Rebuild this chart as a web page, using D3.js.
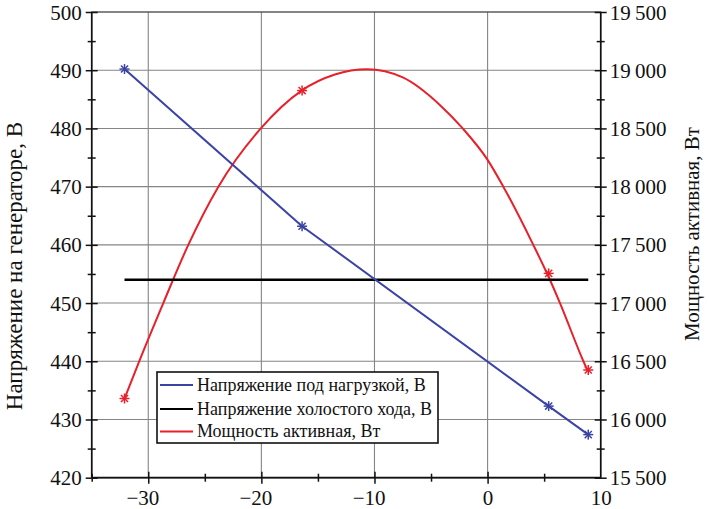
<!DOCTYPE html>
<html><head><meta charset="utf-8">
<script src="https://cdn.jsdelivr.net/npm/d3@7"></script>
<style>
html,body{margin:0;padding:0;background:#fff;}
svg{display:block;}
</style></head>
<body>
<svg id="chart" width="709" height="509"></svg>
<script>
// ---- data ----
const angleX = [-32.1, -16.4, 5.4, 8.9];                  // measurement points
const loadVoltage = [490.2, 463.2, 432.3, 427.4];         // Напряжение под нагрузкой, В
const idleX = [-32.1, 8.9];
const idleVoltage = [454, 454];                           // Напряжение холостого хода, В
const powerPoints = [16180, 18825, 17255, 16425];         // Мощность активная, Вт (markers)
// fitted power curve
const powerCurveX = [-32.1, -30.8, -28.67, -26.46, -23.8, -20.05, -16.44, -13.5, -10.66, -7.5, -4.2, -2.2, 0, 1.39, 4.04, 5.37, 6.4, 8.47, 8.86];
const powerCurveW = [16180, 16500, 17000, 17500, 18000, 18500, 18825, 18963, 19008, 18938, 18700, 18500, 18230, 18000, 17500, 17230, 17000, 16500, 16415];

const xTicks = [-30, -20, -10, 0, 10];
const xMinorTicks = [-35, -25, -15, -5, 5];
const yLeftTicks = [420, 430, 440, 450, 460, 470, 480, 490, 500];
const yRightTicks = [15500, 16000, 16500, 17000, 17500, 18000, 18500, 19000, 19500];
const legendLabels = ["Напряжение под нагрузкой, В", "Напряжение холостого хода, В", "Мощность активная, Вт"];
const seriesColors = ["#3b44a4", "#000000", "#e8202a"];
const leftTitle = "Напряжение на генераторе, В";
const rightTitle = "Мощность активная, Вт";

const FONT = "'Liberation Serif', 'DejaVu Serif', 'Times New Roman', serif";

// ---- layout ----
const L = 91.7, R = 600.7, T = 12, B = 477.7;
const svg = d3.select("#chart").attr("font-family", FONT);
const x = d3.scaleLinear().domain([-35, 10]).range([L, R]);
const yL = d3.scaleLinear().domain([420, 500]).range([B, T]);
const yR = d3.scaleLinear().domain([15500, 19500]).range([B, T]);

// grid
const grid = svg.append("g").attr("stroke", "#858585").attr("stroke-width", 1.1);
xTicks.filter(v => v > -35 && v < 10).forEach(v => {
  grid.append("line").attr("x1", x(v)).attr("x2", x(v)).attr("y1", T).attr("y2", B);
});
yLeftTicks.filter(v => v > 420 && v < 500).forEach(v => {
  grid.append("line").attr("x1", L).attr("x2", R).attr("y1", yL(v)).attr("y2", yL(v));
});
// frame
svg.append("rect").attr("x", L).attr("y", T).attr("width", R - L).attr("height", B - T)
  .attr("fill", "none").attr("stroke", "#444").attr("stroke-width", 1.3);
svg.append("line").attr("x1", L).attr("x2", L).attr("y1", T).attr("y2", B).attr("stroke", "#111").attr("stroke-width", 1.6);
svg.append("line").attr("x1", R).attr("x2", R).attr("y1", T).attr("y2", B).attr("stroke", "#111").attr("stroke-width", 1.6);
svg.append("line").attr("x1", L).attr("x2", R).attr("y1", B).attr("y2", B).attr("stroke", "#111").attr("stroke-width", 1.8);

// axes via d3 (crossing ticks)
function crossTicks(g) {
  g.selectAll(".tick line").each(function() {
    const l = d3.select(this);
    if (l.attr("x2") !== null && +l.attr("x2") !== 0) l.attr("x1", -(+l.attr("x2")));
    if (l.attr("y2") !== null && +l.attr("y2") !== 0) l.attr("y1", -(+l.attr("y2")));
  });
}
const tickStyle = g => {
  g.attr("font-family", FONT);
  g.select(".domain").remove();
  g.selectAll(".tick line").attr("stroke", "#111").attr("stroke-width", 1.5);
  g.selectAll("text").style("font-family", FONT).attr("fill", "#111");
};

// minor ticks
const yLeftMinor = d3.range(425, 500, 10);
const yRightMinor = d3.range(15750, 19500, 500);
svg.append("g").attr("transform", `translate(0,${B})`).call(d3.axisBottom(x).tickValues(xMinorTicks).tickSize(4).tickFormat("")).call(tickStyle).call(crossTicks);
svg.append("g").attr("transform", `translate(${L},0)`).call(d3.axisLeft(yL).tickValues(yLeftMinor).tickSize(4).tickFormat("")).call(tickStyle).call(crossTicks);
svg.append("g").attr("transform", `translate(${R},0)`).call(d3.axisRight(yR).tickValues(yRightMinor).tickSize(4).tickFormat("")).call(tickStyle).call(crossTicks);

const minus = "\u2212";
const fmtX = v => (v < 0 ? minus + Math.abs(v) : String(v));
const fmtR = v => { const s = String(v); return s.slice(0, s.length - 3) + "\u2009" + s.slice(-3); };

const gx = svg.append("g").attr("transform", `translate(0,${B})`)
  .call(d3.axisBottom(x).tickValues(xTicks).tickSize(6).tickPadding(6).tickFormat(fmtX)).call(tickStyle).call(crossTicks);
gx.selectAll("text").attr("font-size", 21).attr("y", 27).attr("dy", 0);
gx.selectAll(".tick").filter(d => d === 10).select("line").remove();
// digits centred on tick, minus hangs left
const probe = svg.append("text").style("font-family", FONT).attr("font-size", 21).text(minus);
const mW = probe.node().getComputedTextLength();
probe.remove();
gx.selectAll("text").filter(d => d < 0).attr("dx", -mW / 2);

const gyl = svg.append("g").attr("transform", `translate(${L},0)`)
  .call(d3.axisLeft(yL).tickValues(yLeftTicks).tickSize(6).tickPadding(4).tickFormat(d3.format("d"))).call(tickStyle).call(crossTicks);
gyl.selectAll("text").attr("font-size", 21).attr("x", -10).attr("dy", "0.34em");

const gyr = svg.append("g").attr("transform", `translate(${R},0)`)
  .call(d3.axisRight(yR).tickValues(yRightTicks).tickSize(6).tickPadding(4).tickFormat(fmtR)).call(tickStyle).call(crossTicks);
gyr.selectAll("text").attr("font-size", 21).attr("x", 9).attr("dy", "0.34em");

// axis titles
svg.append("text").attr("transform", `translate(22,266) rotate(-90)`).attr("text-anchor", "middle")
  .style("font-family", FONT).attr("fill", "#111").attr("font-size", 23).text(leftTitle);
svg.append("text").attr("transform", `translate(699,234) rotate(-90)`).attr("text-anchor", "middle")
  .style("font-family", FONT).attr("fill", "#111").attr("font-size", 21).text(rightTitle);

// series
const lineGen = d3.line();
const loadData = angleX.map((v, i) => [x(v), yL(loadVoltage[i])]);
const idleData = idleX.map((v, i) => [x(v), yL(idleVoltage[i])]);
const curveData = powerCurveX.map((v, i) => [x(v), yR(powerCurveW[i])]);
const powerData = angleX.map((v, i) => [x(v), yR(powerPoints[i])]);

svg.append("path").attr("d", d3.line().curve(d3.curveMonotoneX)(curveData))
  .attr("fill", "none").attr("stroke", seriesColors[2]).attr("stroke-width", 2);
svg.append("path").attr("d", lineGen(idleData)).attr("fill", "none").attr("stroke", seriesColors[1]).attr("stroke-width", 2.4);
svg.append("path").attr("d", lineGen(loadData)).attr("fill", "none").attr("stroke", seriesColors[0]).attr("stroke-width", 2);

function star(g, pts, color) {
  const r = 5;
  pts.forEach(([px, py]) => {
    const s = g.append("g").attr("transform", `translate(${px},${py})`).attr("stroke", color).attr("stroke-width", 1.5);
    [0, 45, 90, 135].forEach(a => {
      const c = Math.cos(a * Math.PI / 180) * r, sn = Math.sin(a * Math.PI / 180) * r;
      s.append("line").attr("x1", -c).attr("y1", -sn).attr("x2", c).attr("y2", sn);
    });
  });
}
const marks = svg.append("g");
star(marks, loadData, seriesColors[0]);
star(marks, powerData, seriesColors[2]);

// legend
const lg = svg.append("g").attr("transform", "translate(157,372)");
lg.append("rect").attr("width", 281).attr("height", 71).attr("fill", "#fff").attr("stroke", "#111").attr("stroke-width", 1.6);
const rowsY = [13, 37, 59.5];
legendLabels.forEach((lab, i) => {
  lg.append("line").attr("x1", 3).attr("x2", 36).attr("y1", rowsY[i]).attr("y2", rowsY[i])
    .attr("stroke", seriesColors[i]).attr("stroke-width", 2);
  lg.append("text").attr("x", 40).attr("y", rowsY[i]).attr("dy", "0.33em")
    .style("font-family", FONT).attr("fill", "#111").attr("font-size", 18).text(lab);
});
</script>
</body></html>
